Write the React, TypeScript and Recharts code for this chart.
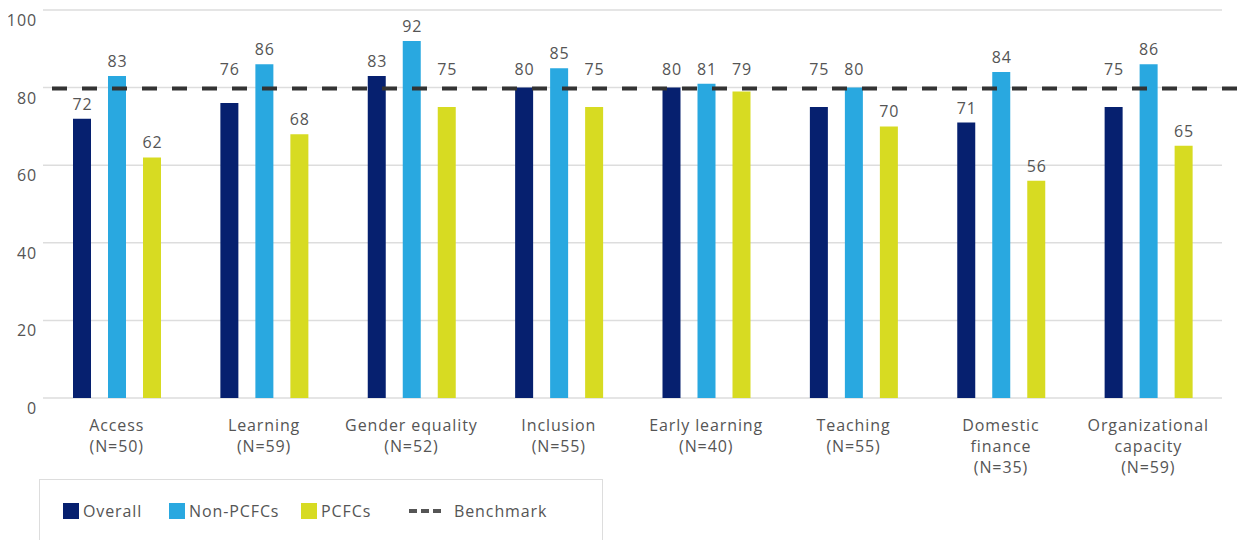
import React from "react";
import { BarChart, Bar, XAxis, YAxis, CartesianGrid, ReferenceLine, LabelList } from "recharts";

const categories = [
  "Access\n(N=50)",
  "Learning\n(N=59)",
  "Gender equality\n(N=52)",
  "Inclusion\n(N=55)",
  "Early learning\n(N=40)",
  "Teaching\n(N=55)",
  "Domestic\nfinance\n(N=35)",
  "Organizational\ncapacity\n(N=59)",
];
const overall = [72, 76, 83, 80, 80, 75, 71, 75];
const nonPcfcs = [83, 86, 92, 85, 81, 80, 84, 86];
const pcfcs = [62, 68, 75, 75, 79, 70, 56, 65];
const benchmark = 80;
const yTicks = [0, 20, 40, 60, 80, 100];

const data = categories.map((c, i) => ({
  name: c,
  overall: overall[i],
  non: nonPcfcs[i],
  pcfc: pcfcs[i],
}));

const FONT = "'Open Sans', sans-serif";
const LS = 0.9;
const TEXT = "#555555";
const C_OVERALL = "#06206f";
const C_NON = "#29a8e0";
const C_PCFC = "#d7db22";

const XTick = (props: any) => {
  const { x, y, payload } = props;
  const lines = String(payload.value).split("\n");
  return (
    <g>
      {lines.map((l: string, i: number) => (
        <text
          key={i}
          x={x}
          y={y + 25 + i * 21}
          textAnchor="middle"
          fill={TEXT}
          fontSize={16}
          fontFamily={FONT}
          letterSpacing={LS}
        >
          {l}
        </text>
      ))}
    </g>
  );
};

const YTick = (props: any) => {
  const { x, y, payload } = props;
  return (
    <text x={x + 2} y={y + 16} textAnchor="end" fill={TEXT} fontSize={16} fontFamily={FONT} letterSpacing={LS}>
      {payload.value}
    </text>
  );
};

// value label that steps above the benchmark line when it would overlap it
const ValueLabel = (props: any) => {
  const { x, y, width, height, value } = props;
  const v = Number(value);
  const bottom = y + height;
  const pxPerUnit = height / v;
  const lineY = bottom - benchmark * pxPerUnit;
  let cy = y - 15;
  const collides = cy + 8 > lineY - 10 && cy - 8 < lineY + 6;
  if (collides) {
    cy = y < lineY ? y - 21 : lineY - 19;
  }
  return (
    <text
      x={x + width / 2 + LS / 2}
      y={cy + 6}
      textAnchor="middle"
      fill={TEXT}
      fontSize={16}
      fontFamily={FONT}
      letterSpacing={LS}
    >
      {value}
    </text>
  );
};

const BenchShape = (props: any) => {
  const { x1, y1, x2, y2 } = props;
  return (
    <line x1={x1 + 9} y1={y1 + 1} x2={x2 + 30} y2={y2 + 1} stroke="#333333" strokeWidth={4} strokeDasharray="15 15" />
  );
};

const LegendBox = () => (
  <div
    style={{
      position: "absolute",
      left: 31,
      top: 471,
      width: 564,
      height: 70,
      border: "1px solid #dddddd",
      boxSizing: "border-box",
      fontFamily: FONT,
      fontSize: 16,
      letterSpacing: LS,
      color: TEXT,
    }}
  >
    {[
      { l: "Overall", c: C_OVERALL, x: 23 },
      { l: "Non-PCFCs", c: C_NON, x: 129 },
      { l: "PCFCs", c: C_PCFC, x: 261 },
    ].map((it) => (
      <div key={it.l} style={{ position: "absolute", left: it.x, top: 23, display: "flex", alignItems: "center", height: 16 }}>
        <div style={{ width: 16, height: 16, background: it.c, marginRight: 4 }} />
        <span style={{ lineHeight: "16px" }}>{it.l}</span>
      </div>
    ))}
    <div style={{ position: "absolute", left: 369, top: 23, display: "flex", alignItems: "center", height: 16 }}>
      <svg width={34} height={16} style={{ marginRight: 11 }}>
        <line x1={0} y1={8} x2={34} y2={8} stroke="#555555" strokeWidth={4} strokeDasharray="8 4" />
      </svg>
      <span style={{ lineHeight: "16px" }}>Benchmark</span>
    </div>
  </div>
);

export default function App() {
  return (
    <div style={{ position: "relative", width: 1237, height: 532 }}>
      <BarChart
        width={1237}
        height={532}
        data={data}
        margin={{ top: 2, right: 23, left: 0, bottom: 0 }}
        barSize={18}
        barGap={17}
      >
        <CartesianGrid horizontal vertical={false} stroke="#dddddd" strokeWidth={1.5} />
        <XAxis dataKey="name" axisLine={false} tickLine={false} tick={<XTick />} interval={0} height={142} />
        <YAxis
          domain={[0, 100]}
          ticks={yTicks}
          axisLine={false}
          tickLine={false}
          width={35}
          tick={<YTick />}
          interval={0}
        />
        <Bar dataKey="overall" fill={C_OVERALL} isAnimationActive={false}>
          <LabelList dataKey="overall" content={<ValueLabel />} />
        </Bar>
        <Bar dataKey="non" fill={C_NON} isAnimationActive={false}>
          <LabelList dataKey="non" content={<ValueLabel />} />
        </Bar>
        <Bar dataKey="pcfc" fill={C_PCFC} isAnimationActive={false}>
          <LabelList dataKey="pcfc" content={<ValueLabel />} />
        </Bar>
        <ReferenceLine y={benchmark} shape={<BenchShape />} ifOverflow="visible" />
      </BarChart>
      <LegendBox />
    </div>
  );
}
